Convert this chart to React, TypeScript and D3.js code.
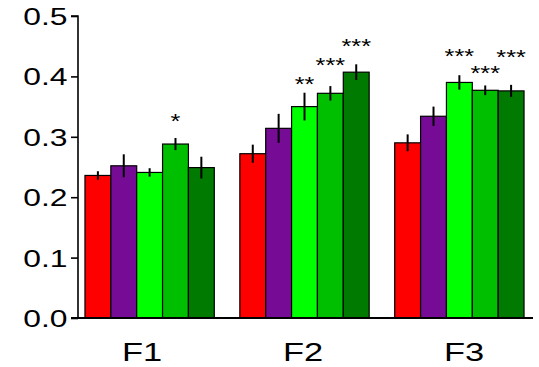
import React, { useEffect, useRef } from 'react';
import * as d3 from 'd3';

const groups = ['F1', 'F2', 'F3'];
const seriesNames = ['S1', 'S2', 'S3', 'S4', 'S5'];
const seriesColors = ['#ff0000', '#760c96', '#00ff00', '#00be00', '#007a00'];

// mean values per series, one entry per group (F1, F2, F3)
const means = [
  [0.236, 0.272, 0.290],
  [0.252, 0.314, 0.334],
  [0.241, 0.350, 0.390],
  [0.288, 0.372, 0.377],
  [0.249, 0.407, 0.376],
];
const errors = [
  [0.007, 0.015, 0.014],
  [0.019, 0.024, 0.016],
  [0.007, 0.023, 0.012],
  [0.010, 0.012, 0.008],
  [0.018, 0.013, 0.010],
];

// significance marks: group, series index, label, value level
const sigMarks = [
  { group: 'F1', series: 3, label: '*', level: 0.333 },
  { group: 'F2', series: 2, label: '**', level: 0.395 },
  { group: 'F2', series: 3, label: '***', level: 0.4255 },
  { group: 'F2', series: 4, label: '***', level: 0.457 },
  { group: 'F3', series: 2, label: '***', level: 0.441 },
  { group: 'F3', series: 3, label: '***', level: 0.413 },
  { group: 'F3', series: 4, label: '***', level: 0.439 },
];

const yTicks = [0, 0.1, 0.2, 0.3, 0.4, 0.5];

const W = 539;
const H = 367;
const FONT = 'Arial, "Liberation Sans", Helvetica, sans-serif';
const SX = 1.3; // text in the original is stretched horizontally

export default function App() {
  const svgRef = useRef<SVGSVGElement>(null);

  useEffect(() => {
    if (!svgRef.current) return;
    const svg = d3.select(svgRef.current);
    svg.selectAll('*').remove();

    const axisX = 78;
    const y = d3.scaleLinear().domain([0, 0.5]).range([318, 16]);

    const x0 = d3.scaleBand<string>()
      .domain(groups)
      .range([axisX, 531])
      .paddingInner(0.165)
      .paddingOuter(0.045);

    const x1 = d3.scaleBand<string>()
      .domain(seriesNames)
      .range([0, x0.bandwidth()]);

    // category labels sit a little off the group centres in the original
    const xLabel = d3.scalePoint<string>().domain(groups).range([142, 464]);

    // bars
    const bars = svg.append('g');
    seriesNames.forEach((s, si) => {
      groups.forEach((g, gi) => {
        const bx = (x0(g) ?? 0) + (x1(s) ?? 0);
        bars.append('rect')
          .attr('x', bx)
          .attr('y', y(means[si][gi]))
          .attr('width', x1.bandwidth())
          .attr('height', y(0) - y(means[si][gi]))
          .attr('fill', seriesColors[si])
          .attr('stroke', '#000')
          .attr('stroke-width', 1.2);
      });
    });

    // error bars
    seriesNames.forEach((s, si) => {
      groups.forEach((g, gi) => {
        const cx = (x0(g) ?? 0) + (x1(s) ?? 0) + x1.bandwidth() / 2;
        svg.append('line')
          .attr('x1', cx).attr('x2', cx)
          .attr('y1', y(means[si][gi] - errors[si][gi]))
          .attr('y2', y(means[si][gi] + errors[si][gi]))
          .attr('stroke', '#000')
          .attr('stroke-width', 2);
      });
    });

    // significance stars
    const starSize = 19.5;
    sigMarks.forEach(m => {
      const cx = (x0(m.group) ?? 0) + (x1(seriesNames[m.series]) ?? 0) + x1.bandwidth() / 2;
      const by = y(m.level) + starSize * 0.575;
      svg.append('text')
        .attr('transform', `translate(${cx},${by}) scale(${SX},1)`)
        .attr('text-anchor', 'middle')
        .attr('font-family', FONT)
        .attr('font-size', starSize)
        .attr('fill', '#000')
        .text(m.label);
    });

    // y axis
    const yAxis = svg.append('g')
      .attr('transform', `translate(${axisX},0)`)
      .call(d3.axisLeft(y).tickValues(yTicks).tickFormat(d3.format('.1f')).tickSize(7).tickPadding(4));
    yAxis.select('.domain')
      .attr('d', `M-7,${y(0.5)}H0V${y(0)}`)
      .attr('stroke', '#000')
      .attr('stroke-width', 1.6);
    yAxis.selectAll('.tick line').attr('stroke', '#000').attr('stroke-width', 1.6);
    yAxis.selectAll('.tick text')
      .attr('font-family', FONT)
      .attr('font-size', 24.5)
      .attr('fill', '#000')
      .attr('dy', '0.35em')
      .attr('transform', `translate(-10.5,0) scale(${SX},1)`)
      .attr('x', 0);

    // x axis baseline
    svg.append('line')
      .attr('x1', axisX - 7).attr('x2', 533)
      .attr('y1', y(0)).attr('y2', y(0))
      .attr('stroke', '#000')
      .attr('stroke-width', 2);

    // group labels
    groups.forEach(g => {
      svg.append('text')
        .attr('transform', `translate(${xLabel(g)},361) scale(${SX},1)`)
        .attr('text-anchor', 'middle')
        .attr('font-family', FONT)
        .attr('font-size', 26.5)
        .attr('fill', '#000')
        .text(g);
    });
  }, []);

  return (
    <svg
      ref={svgRef}
      width={W}
      height={H}
      style={{ position: 'absolute', left: 0, top: 0, background: '#fff' }}
    ></svg>
  );
}
